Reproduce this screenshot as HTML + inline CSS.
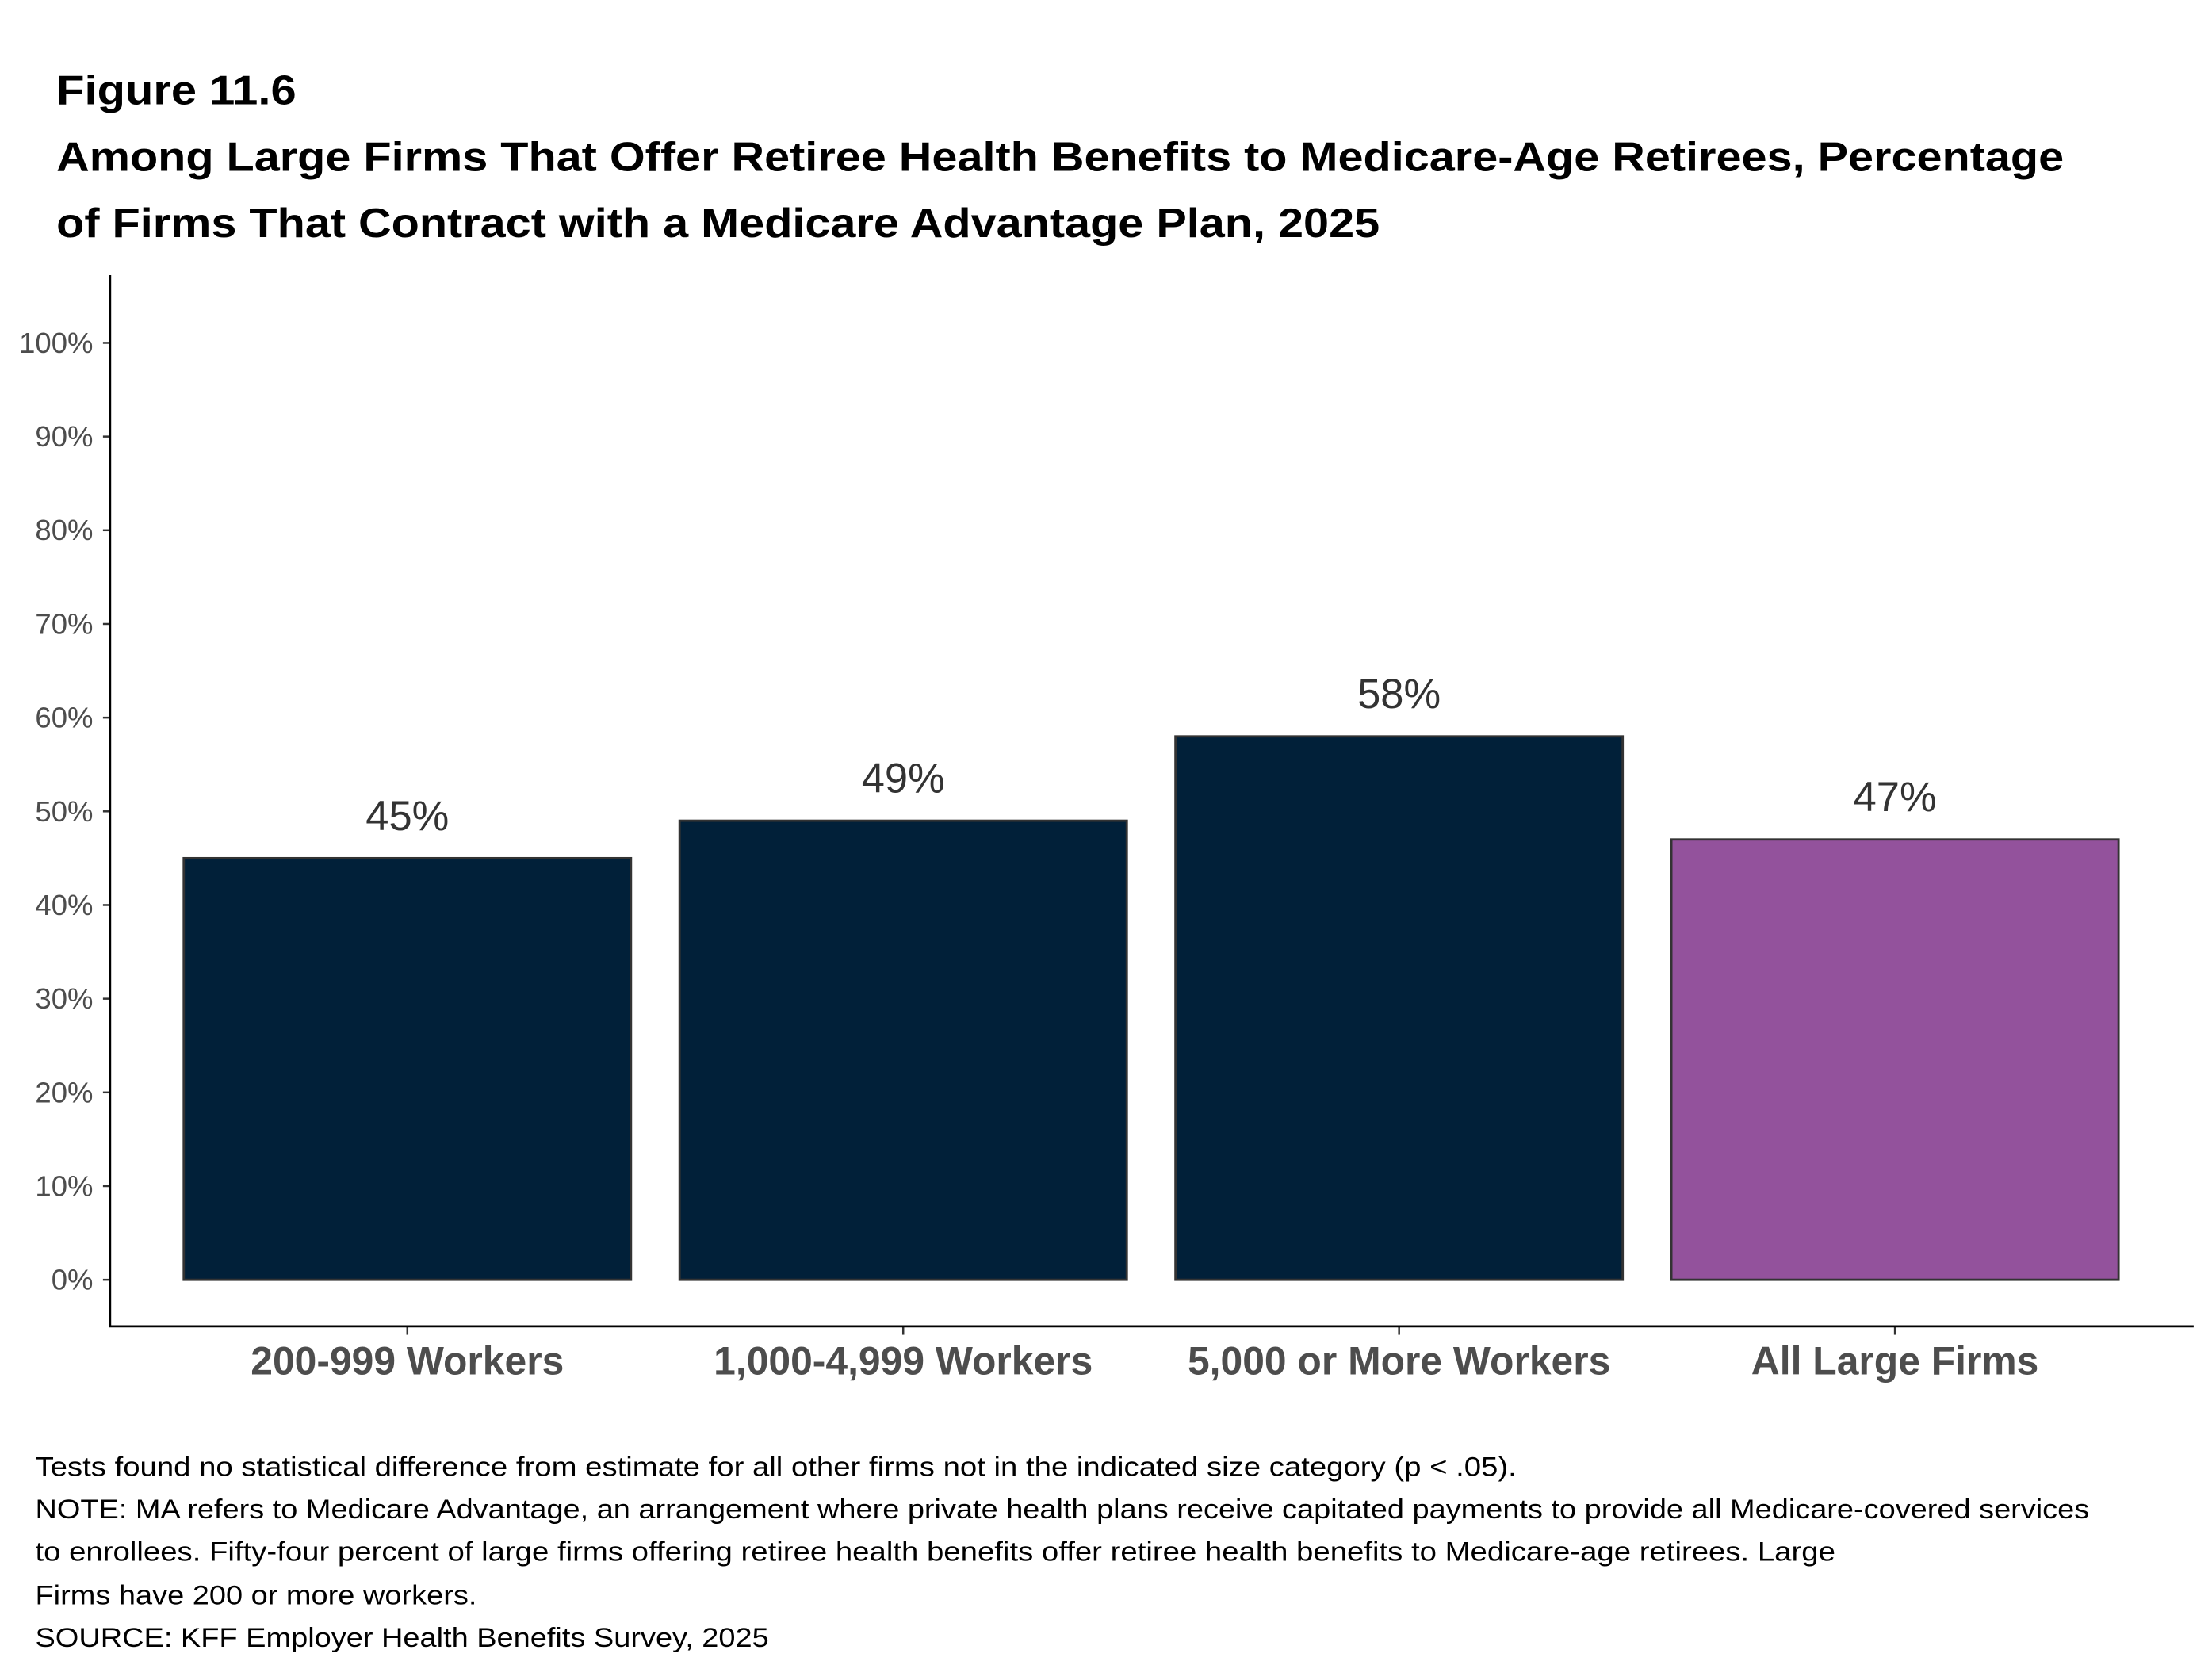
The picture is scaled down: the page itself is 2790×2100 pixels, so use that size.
<!DOCTYPE html>
<html>
<head>
<meta charset="utf-8">
<style>
html,body{margin:0;padding:0;background:#fff;}
svg{display:block;}
text{font-family:"Liberation Sans",Arial,sans-serif;}
</style>
</head>
<body>
<svg id="chart" width="2790" height="2100" viewBox="0 0 1568 1180" preserveAspectRatio="none" xmlns="http://www.w3.org/2000/svg">
  <rect x="0" y="0" width="1568" height="1180" fill="#fff"/>
  <g font-weight="bold" fill="#000" font-size="29">
    <text x="40" y="74" textLength="170" lengthAdjust="spacingAndGlyphs">Figure 11.6</text>
    <text x="40" y="121" textLength="1423" lengthAdjust="spacingAndGlyphs">Among Large Firms That Offer Retiree Health Benefits to Medicare-Age Retirees, Percentage</text>
    <text x="40" y="168" textLength="938" lengthAdjust="spacingAndGlyphs">of Firms That Contract with a Medicare Advantage Plan, 2025</text>
  </g>
  <g id="yaxis"></g>
  <g id="bars"></g>
  <g id="xaxis"></g>
  <line x1="78" y1="195" x2="78" y2="940.5" stroke="#000" stroke-width="1.6"/>
  <line x1="77.2" y1="940" x2="1555" y2="940" stroke="#000" stroke-width="1.6"/>
  <g font-size="19" fill="#000">
    <text x="25" y="1046" textLength="1050" lengthAdjust="spacingAndGlyphs">Tests found no statistical difference from estimate for all other firms not in the indicated size category (p &lt; .05).</text>
    <text x="25" y="1076" textLength="1456" lengthAdjust="spacingAndGlyphs">NOTE: MA refers to Medicare Advantage, an arrangement where private health plans receive capitated payments to provide all Medicare-covered services</text>
    <text x="25" y="1106" textLength="1276" lengthAdjust="spacingAndGlyphs">to enrollees.  Fifty-four percent of large firms offering retiree health benefits offer retiree health benefits to Medicare-age retirees.  Large</text>
    <text x="25" y="1137" textLength="313" lengthAdjust="spacingAndGlyphs">Firms have 200 or more workers.</text>
    <text x="25" y="1167" textLength="520" lengthAdjust="spacingAndGlyphs">SOURCE: KFF Employer Health Benefits Survey, 2025</text>
  </g>
</svg>
<script>
const categories = ["200-999 Workers", "1,000-4,999 Workers", "5,000 or More Workers", "All Large Firms"];
const values = [45, 49, 58, 47];
const valueLabels = ["45%", "49%", "58%", "47%"];
const barColors = ["#012039", "#012039", "#012039", "#93529c"];
const yTicks = [0, 10, 20, 30, 40, 50, 60, 70, 80, 90, 100];
const yTickLabels = ["0%", "10%", "20%", "30%", "40%", "50%", "60%", "70%", "80%", "90%", "100%"];

const NS = "http://www.w3.org/2000/svg";
const y0 = 907, y100 = 243;
function yScale(v){ return y0 - (y0 - y100) * v / 100; }
const bandStart = 113, bandStep = 351.5, barW = 317;
function xCenter(i){ return bandStart + bandStep * (i + 0.5); }

const yaxis = document.getElementById('yaxis');
yTicks.forEach((t, i) => {
  const y = yScale(t);
  const ln = document.createElementNS(NS, 'line');
  ln.setAttribute('x1', 73); ln.setAttribute('x2', 78);
  ln.setAttribute('y1', y); ln.setAttribute('y2', y);
  ln.setAttribute('stroke', '#333'); ln.setAttribute('stroke-width', '1.4');
  
  
  yaxis.appendChild(ln);
  const tx = document.createElementNS(NS, 'text');
  tx.setAttribute('x', 66); tx.setAttribute('y', y + 7);
  tx.setAttribute('text-anchor', 'end'); tx.setAttribute('font-size', '20.5');
  tx.setAttribute('fill', '#4d4d4d');
  tx.textContent = yTickLabels[i];
  
  
  yaxis.appendChild(tx);
});

const bars = document.getElementById('bars');
const xaxis = document.getElementById('xaxis');
categories.forEach((c, i) => {
  const cx = xCenter(i);
  const yt = yScale(values[i]);
  const r = document.createElementNS(NS, 'rect');
  r.setAttribute('x', cx - barW / 2); r.setAttribute('y', yt);
  r.setAttribute('width', barW); r.setAttribute('height', y0 - yt);
  r.setAttribute('fill', barColors[i]); r.setAttribute('stroke', '#333'); r.setAttribute('stroke-width', '1.6');
  
  
  bars.appendChild(r);
  const vl = document.createElementNS(NS, 'text');
  vl.setAttribute('x', cx); vl.setAttribute('y', yt - 20);
  vl.setAttribute('text-anchor', 'middle'); vl.setAttribute('font-size', '29.5');
  vl.setAttribute('fill', '#333');
  vl.textContent = valueLabels[i];
  
  
  bars.appendChild(vl);
  const tk = document.createElementNS(NS, 'line');
  tk.setAttribute('x1', cx); tk.setAttribute('x2', cx);
  tk.setAttribute('y1', 940); tk.setAttribute('y2', 946);
  tk.setAttribute('stroke', '#333'); tk.setAttribute('stroke-width', '1.4');
  
  
  xaxis.appendChild(tk);
  const xl = document.createElementNS(NS, 'text');
  xl.setAttribute('x', cx); xl.setAttribute('y', 974);
  xl.setAttribute('text-anchor', 'middle'); xl.setAttribute('font-size', '28');
  xl.setAttribute('font-weight', 'bold'); xl.setAttribute('fill', '#4d4d4d');
  xl.textContent = c;
  
  
  xaxis.appendChild(xl);
});
</script>
</body>
</html>
